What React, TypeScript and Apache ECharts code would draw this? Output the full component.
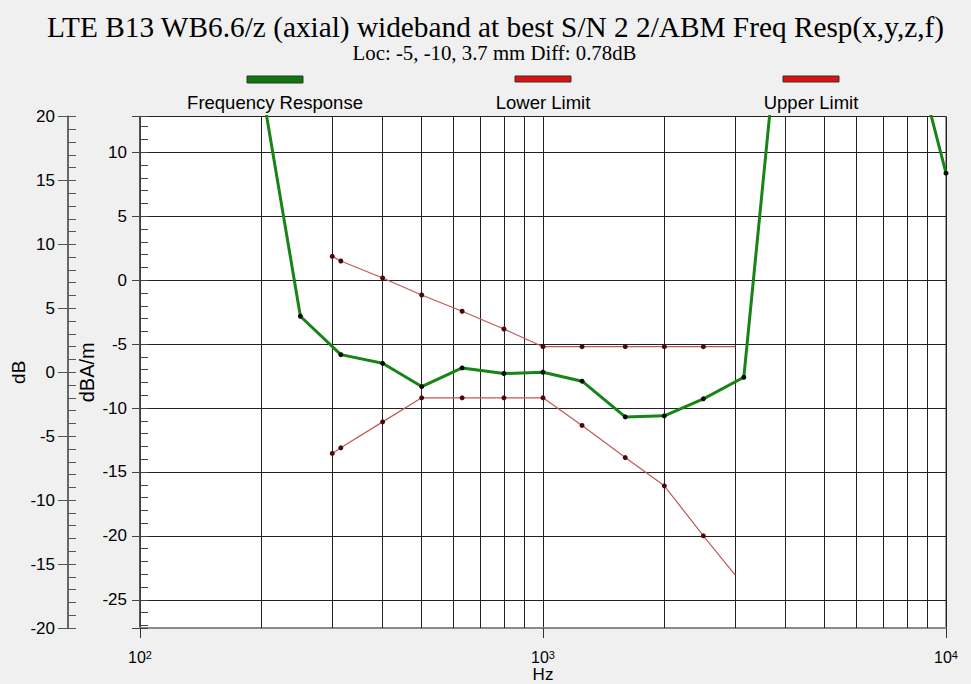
import React, { useEffect, useRef } from 'react';
import * as echarts from 'echarts';

const TITLE = 'LTE B13 WB6.6/z (axial) wideband at best S/N 2 2/ABM Freq Resp(x,y,z,f)';
const SUBTITLE = 'Loc: -5, -10, 3.7 mm Diff: 0.78dB';
const SERIES_NAMES = ['Frequency Response', 'Lower Limit', 'Upper Limit'];

// Frequency response (dB, left outer axis)
const RESP_HZ = [200, 250, 315, 400, 500, 630, 800, 1000, 1250, 1600, 2000, 2500, 3150, 4000, 5000, 6300, 8000, 10000];
const RESP_DB = [22.5, 4.38, 1.38, 0.7, -1.12, 0.34, -0.1, 0, -0.7, -3.49, -3.41, -2.08, -0.39, 32.8, 38, 36, 27.4, 15.57];

// Limits (dB)
const LIMIT_HZ = [300, 315, 400, 500, 630, 800, 1000, 1250, 1600, 2000, 2500, 3000];
const UPPER_DB = [9.06, 8.7, 7.37, 6.04, 4.77, 3.38, 2, 2, 2, 2, 2, 2];
const LOWER_DB = [-6.35, -5.91, -3.88, -2, -2, -2, -2, -4.16, -6.67, -8.88, -12.79, -15.86];

// Vertical grid lines between decades
const MINOR_HZ = [200, 300, 400, 500, 600, 700, 800, 900, 2000, 3000, 4000, 5000, 6000, 7000, 8000, 9000];

// Axis ranges
const DB_MIN = -20;
const DB_MAX = 20;
const DBA_MIN = -27.2;
const DBA_MAX = 12.8;

const SANS = '"Liberation Sans", Arial, sans-serif';
const SERIF = '"Liberation Serif", "Times New Roman", serif';

export default function App() {
  const ref = useRef<HTMLDivElement>(null);
  useEffect(() => {
    document.body.style.margin = '0';
    document.body.style.background = '#f0f0f0';
    const chart = echarts.init(ref.current!, null, { renderer: 'svg' });

    const legendLayout = [
      { cx: 275, fill: '#0c780c', h: 7 },
      { cx: 543, fill: '#dd1111', h: 6 },
      { cx: 811, fill: '#dd1111', h: 6 },
    ];
    const graphic: any[] = [
      {
        type: 'text',
        x: 495.5,
        y: 27,
        style: { text: TITLE, fill: '#000', font: `29.3px ${SERIF}`, align: 'center', verticalAlign: 'middle', lineHeight: 28 },
        silent: true,
      },
      {
        type: 'text',
        x: 494.5,
        y: 52.5,
        style: { text: SUBTITLE, fill: '#000', font: `20.8px ${SERIF}`, align: 'center', verticalAlign: 'middle', lineHeight: 20 },
        silent: true,
      },
    ];
    SERIES_NAMES.forEach((name, i) => {
      const L = legendLayout[i];
      graphic.push({
        type: 'rect',
        shape: { x: L.cx - 28, y: 76, width: 56, height: L.h },
        style: { fill: L.fill, stroke: '#333', lineWidth: 1 },
        silent: true,
      });
      graphic.push({
        type: 'text',
        x: L.cx,
        y: 102,
        style: {
          text: name,
          fill: '#000',
          font: `18.5px ${SANS}`,
          align: 'center',
          verticalAlign: 'middle',
        },
        silent: true,
      });
    });

    const isMult = (v: number, m: number) => Math.abs(v - Math.round(v / m) * m) < 1e-6;

    const option: any = {
      animation: false,
      backgroundColor: '#f0f0f0',
      graphic,
      grid: {
        left: 140,
        right: 25,
        top: 116.5,
        bottom: 56,
        show: true,
        outerBoundsMode: 'none',
        containLabel: false,
        backgroundColor: '#ffffff',
        borderColor: '#333',
        borderWidth: 1,
      },
      xAxis: {
        type: 'log',
        logBase: 10,
        min: 100,
        max: 10000,
        name: 'Hz',
        nameLocation: 'middle',
        nameGap: 38,
        nameMoveOverlap: false,
        nameTextStyle: { fontFamily: SANS, fontSize: 17, color: '#000', lineHeight: 16 },
        axisLine: { show: true, onZero: false, lineStyle: { color: '#8a8a8a', width: 2 } },
        axisTick: { show: true, length: 10, lineStyle: { color: '#333' } },
        axisLabel: {
          margin: 21,
          formatter: (v: number) => `{b|10}{s|${Math.round(Math.log10(v))}}`,
          rich: {
            b: { fontFamily: SANS, fontSize: 16, color: '#000', lineHeight: 17 },
            s: { fontFamily: SANS, fontSize: 11, color: '#000', verticalAlign: 'top', lineHeight: 11 },
          },
        },
        splitLine: { show: true, lineStyle: { color: '#222', width: 1 } },
      },
      yAxis: [
        {
          type: 'value',
          position: 'left',
          offset: 72,
          min: DB_MIN,
          max: DB_MAX,
          interval: 5,
          name: 'dB',
          nameLocation: 'middle',
          nameGap: 40,
          nameMoveOverlap: false,
          nameRotate: 90,
          nameTextStyle: { fontFamily: SANS, fontSize: 19, color: '#000' },
          axisLine: { show: true, onZero: false, lineStyle: { color: '#666', width: 2 } },
          axisTick: { show: true, length: 10, lineStyle: { color: '#555' } },
          axisLabel: { margin: 13, fontFamily: SANS, fontSize: 17, color: '#000' },
          splitLine: { show: false },
        },
        {
          type: 'value',
          position: 'left',
          offset: 72,
          min: DB_MIN,
          max: DB_MAX,
          interval: 1,
          axisLine: { show: false, onZero: false },
          axisTick: { show: true, inside: true, length: 8, lineStyle: { color: '#555' } },
          axisLabel: { show: false },
          splitLine: { show: false },
        },
        {
          type: 'value',
          position: 'left',
          offset: 0,
          min: DBA_MIN,
          max: DBA_MAX,
          minInterval: 5,
          maxInterval: 5,
          name: 'dBA/m',
          nameLocation: 'middle',
          nameGap: 43,
          nameMoveOverlap: false,
          nameRotate: 90,
          nameTextStyle: { fontFamily: SANS, fontSize: 20, color: '#000' },
          axisLine: { show: true, onZero: false, lineStyle: { color: '#444', width: 1.5 } },
          axisTick: { show: true, length: 8, lineStyle: { color: '#444' } },
          axisLabel: {
            margin: 13,
            fontFamily: SANS,
            fontSize: 17,
            color: '#000',
            formatter: (v: number) => (isMult(v, 5) ? String(Math.round(v)) : ''),
          },
          splitLine: { show: true, lineStyle: { color: '#222', width: 1 } },
        },
        {
          type: 'value',
          position: 'left',
          offset: 0,
          min: DBA_MIN,
          max: DBA_MAX,
          minInterval: 1,
          maxInterval: 1,
          axisLine: { show: false, onZero: false },
          axisTick: { show: true, inside: true, length: 8, lineStyle: { color: '#444' } },
          axisLabel: { show: false },
          splitLine: { show: false },
        },
      ],
      series: [
        {
          type: 'line',
          name: 'grid',
          silent: true,
          data: [],
          yAxisIndex: 0,
          z: 1,
          markLine: {
            silent: true,
            z: 1,
            symbol: ['none', 'none'],
            label: { show: false },
            lineStyle: { color: '#222', width: 1, type: 'solid' },
            emphasis: { disabled: true },
            data: MINOR_HZ.map((v) => ({ xAxis: v })),
          },
        },
        {
          type: 'line',
          name: SERIES_NAMES[1],
          yAxisIndex: 0,
          silent: true,
          z: 3,
          clip: true,
          symbol: 'circle',
          symbolSize: 5,
          itemStyle: { color: '#4a0808' },
          lineStyle: { color: '#c05858', width: 1.2 },
          data: LIMIT_HZ.map((f, i) =>
            i === LIMIT_HZ.length - 1 ? { value: [f, LOWER_DB[i]], symbol: 'none' } : [f, LOWER_DB[i]]
          ),
        },
        {
          type: 'line',
          name: SERIES_NAMES[2],
          yAxisIndex: 0,
          silent: true,
          z: 3,
          clip: true,
          symbol: 'circle',
          symbolSize: 5,
          itemStyle: { color: '#4a0808' },
          lineStyle: { color: '#c05858', width: 1.2 },
          data: LIMIT_HZ.map((f, i) =>
            i === LIMIT_HZ.length - 1 ? { value: [f, UPPER_DB[i]], symbol: 'none' } : [f, UPPER_DB[i]]
          ),
        },
        {
          type: 'line',
          name: SERIES_NAMES[0],
          yAxisIndex: 0,
          silent: true,
          z: 4,
          clip: true,
          symbol: 'circle',
          symbolSize: 5,
          itemStyle: { color: '#0a0a0a' },
          lineStyle: { color: '#168516', width: 3 },
          data: RESP_HZ.map((f, i) => [f, RESP_DB[i]]),
        },
      ],
    };
    chart.setOption(option);
    return () => chart.dispose();
  }, []);
  return (
    <div
      ref={ref}
      style={{ position: 'fixed', left: 0, top: 0, width: 971, height: 684, background: '#f0f0f0' }}
    />
  );
}
